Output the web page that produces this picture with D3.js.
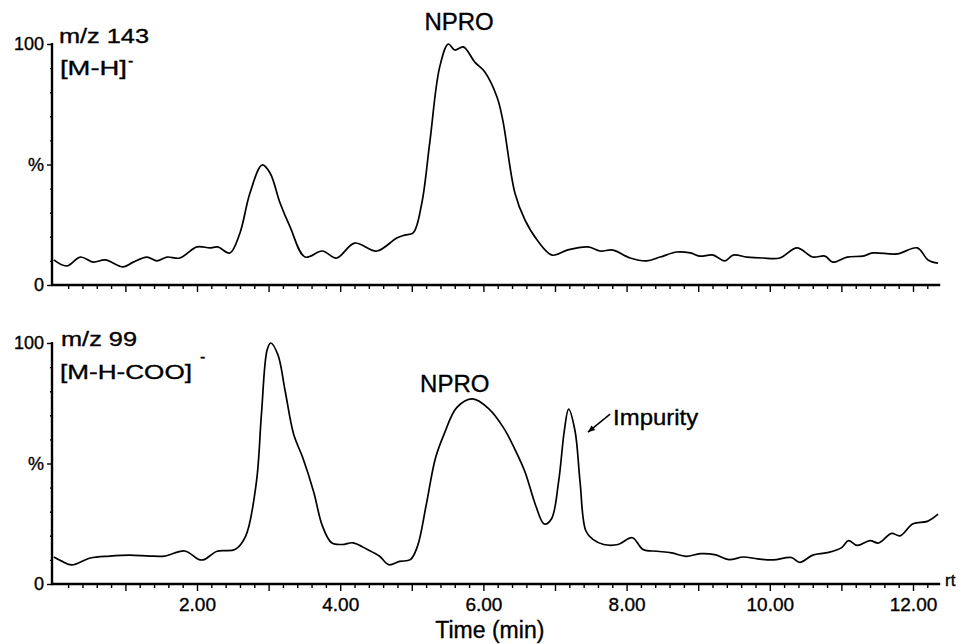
<!DOCTYPE html>
<html>
<head>
<meta charset="utf-8">
<script src="https://cdn.jsdelivr.net/npm/d3@7"></script>
<style>
  html, body { margin: 0; padding: 0; background: #fff; }
  svg { display: block; }
  text { font-family: "Liberation Sans", Arial, sans-serif; fill: #000; stroke: #000; stroke-width: 0.35px; }
</style>
</head>
<body>
<svg id="chart" width="963" height="644"></svg>
<script>
// Retention time (min) and relative intensity (%) of the two ion traces
const topTime = [0.00,0.18,0.37,0.55,0.72,0.97,1.11,1.30,1.44,1.58,1.76,2.00,2.18,2.29,2.46,2.60,2.74,2.91,3.02,3.16,3.30,3.51,3.75,3.95,4.20,4.51,4.79,4.90,5.02,5.14,5.25,5.39,5.51,5.60,5.72,5.88,6.02,6.19,6.27,6.44,6.58,6.75,6.96,7.17,7.46,7.63,7.81,8.05,8.28,8.47,8.70,8.89,9.02,9.21,9.37,9.49,9.68,9.90,10.14,10.38,10.60,10.77,10.88,11.08,11.30,11.44,11.78,12.06,12.21,12.35];
const topIntensity = [10.4,7.9,11.6,9.5,10.4,7.5,9.5,11.6,10.0,11.6,11.2,15.8,15.4,15.8,13.3,21.6,38.2,49.8,46.5,34.0,24.1,11.6,14.1,11.2,17.4,14.1,19.5,20.7,21.6,34.0,58.9,90.5,100,97.5,98.8,92.5,88.4,78.0,68.5,38.2,27.0,18.7,12.4,14.5,15.8,14.1,14.5,11.2,10.0,11.6,13.7,13.3,12.0,12.4,10.0,12.4,11.6,11.2,11.2,15.4,11.6,12.0,9.5,11.6,12.0,13.3,12.9,15.4,10.4,9.1];

const bottomTime = [0.00,0.11,0.25,0.51,0.78,1.06,1.34,1.55,1.83,2.03,2.10,2.28,2.53,2.68,2.83,2.90,2.98,3.03,3.13,3.23,3.35,3.48,3.63,3.75,3.88,4.03,4.18,4.38,4.55,4.68,4.83,4.98,5.08,5.20,5.33,5.45,5.63,5.85,6.08,6.28,6.43,6.58,6.73,6.85,6.95,7.05,7.13,7.19,7.28,7.35,7.43,7.53,7.68,7.88,8.08,8.23,8.43,8.63,8.83,9.03,9.23,9.43,9.63,9.83,10.05,10.30,10.42,10.60,10.80,11.00,11.10,11.22,11.40,11.52,11.70,11.82,12.00,12.20,12.35];
const bottomIntensity = [11.2,9.5,7.9,10.8,11.6,12.0,11.6,11.6,13.7,10.1,10.1,13.6,14.3,19.9,42.4,70.5,97.2,100,95.1,80.3,62.1,52.2,38.2,24.2,17.1,16.4,17.1,14.3,11.5,8.0,9.4,10.1,15.7,32.6,52.2,62.1,73.3,76.8,72.6,64.9,56.5,46.6,32.6,24.9,27.0,42.4,63.5,72.6,63.5,42.4,22.1,18.5,16.4,16.4,19.2,14.3,13.6,12.9,11.5,12.6,12.2,10.1,11.2,10.4,10.0,11.0,9.0,12.0,13.0,15.0,18.0,16.0,18.0,17.0,21.0,20.0,25.0,26.0,29.0];

// Axis ticks and labels
const majorTicks = [1,2,3,4,5,6,7,8,9,10,11,12];
const minorTicks = d3.range(0.2, 12.39, 0.2).map(v => +v.toFixed(1)).filter(v => Math.abs(v - Math.round(v)) > 1e-6);
const labelTicks = [2,4,6,8,10,12];
const yTicks = [0, 50, 100];
const yTickLabels = ["0", "%", "100"];
const yMinorTicks = [10,20,30,40,60,70,80,90];

const panelTitles = [["m/z 143", "[M-H]"], ["m/z 99", "[M-H-COO]"]];
const peakLabel = "NPRO";
const impurityLabel = "Impurity";
const xTitle = "Time (min)";

const svg = d3.select("#chart");

const x = d3.scaleLinear().domain([0, 12.38]).range([53.8, 940.2]);
const yTop = d3.scaleLinear().domain([0, 100]).range([285, 44]);
const yBot = d3.scaleLinear().domain([0, 100]).range([584, 343]);

function drawPanel(y, times, values, showLabels) {
  const g = svg.append("g");

  // x axis: minor and major ticks pointing down
  const xMinor = d3.axisBottom(x).tickValues(minorTicks).tickSize(4).tickFormat("");
  const xMajor = d3.axisBottom(x).tickValues(majorTicks).tickSize(7).tickFormat("");
  g.append("g").attr("transform", `translate(0,${y(0)})`).call(xMinor);
  g.append("g").attr("transform", `translate(0,${y(0)})`).call(xMajor);
  if (showLabels) {
    const xLab = d3.axisBottom(x).tickValues(labelTicks).tickSize(0).tickPadding(14)
      .tickFormat(d3.format(".2f"));
    g.append("g").attr("class", "xlab").attr("transform", `translate(0,${y(0)})`).call(xLab);
  }

  // y axis
  const yMinor = d3.axisLeft(y).tickValues(yMinorTicks).tickSize(2).tickFormat("");
  const yMajor = d3.axisLeft(y).tickValues(yTicks).tickSize(5).tickPadding(3)
    .tickFormat((d, i) => yTickLabels[i]);
  g.append("g").attr("transform", `translate(52,0)`).call(yMinor);
  g.append("g").attr("class", "ylab").attr("transform", `translate(52,0)`).call(yMajor);

  g.selectAll(".domain").remove();
  g.selectAll(".tick line").attr("stroke", "#000").attr("stroke-width", 1.4);
  g.selectAll(".ylab text").attr("font-size", 18).attr("font-family", "Liberation Sans, Arial, sans-serif");
  g.selectAll(".xlab text").attr("font-size", 19).attr("font-family", "Liberation Sans, Arial, sans-serif");

  // axis lines
  g.append("line").attr("x1", 52).attr("x2", 52).attr("y1", y(100) - 1).attr("y2", y(0) + 1)
    .attr("stroke", "#000").attr("stroke-width", 2.4);
  g.append("line").attr("x1", 51).attr("x2", x(12.38)).attr("y1", y(0)).attr("y2", y(0))
    .attr("stroke", "#000").attr("stroke-width", 2.6);

  // trace
  const line = d3.line()
    .x((d, i) => x(times[i]))
    .y(d => y(d))
    .curve(d3.curveCatmullRom.alpha(0.5));
  g.append("path").datum(values).attr("d", line)
    .attr("fill", "none").attr("stroke", "#000").attr("stroke-width", 1.7)
    .attr("stroke-linejoin", "round");
  return g;
}

drawPanel(yTop, topTime, topIntensity, false);
drawPanel(yBot, bottomTime, bottomIntensity, true);

// panel titles
svg.append("text").attr("x", 59).attr("y", 43).attr("font-size", 21)
  .attr("textLength", 90).attr("lengthAdjust", "spacingAndGlyphs").text(panelTitles[0][0]);
svg.append("text").attr("x", 60).attr("y", 75).attr("font-size", 21)
  .attr("textLength", 67).attr("lengthAdjust", "spacingAndGlyphs").text(panelTitles[0][1]);
svg.append("text").attr("x", 128).attr("y", 66).attr("font-size", 16).text("-");

svg.append("text").attr("x", 61).attr("y", 346).attr("font-size", 21)
  .attr("textLength", 76).attr("lengthAdjust", "spacingAndGlyphs").text(panelTitles[1][0]);
svg.append("text").attr("x", 60).attr("y", 379).attr("font-size", 21)
  .attr("textLength", 132).attr("lengthAdjust", "spacingAndGlyphs").text(panelTitles[1][1]);
svg.append("text").attr("x", 200).attr("y", 362).attr("font-size", 16).text("-");

// peak labels
svg.append("text").attr("x", x(5.66)).attr("y", 30).attr("font-size", 24)
  .attr("text-anchor", "middle").text(peakLabel);
svg.append("text").attr("x", x(5.6)).attr("y", 392).attr("font-size", 24)
  .attr("text-anchor", "middle").text(peakLabel);

// impurity annotation with arrow
const tip = [x(7.46), yBot(63)];
const tail = [x(7.77), yBot(70.5)];
const ang = Math.atan2(tip[1] - tail[1], tip[0] - tail[0]);
const ah = 7, aw = 3;
svg.append("line").attr("x1", tail[0]).attr("y1", tail[1]).attr("x2", tip[0]).attr("y2", tip[1])
  .attr("stroke", "#000").attr("stroke-width", 1.5);
svg.append("path")
  .attr("d", `M${tip[0]},${tip[1]}` +
    `L${tip[0] - ah * Math.cos(ang) + aw * Math.sin(ang)},${tip[1] - ah * Math.sin(ang) - aw * Math.cos(ang)}` +
    `L${tip[0] - ah * Math.cos(ang) - aw * Math.sin(ang)},${tip[1] - ah * Math.sin(ang) + aw * Math.cos(ang)}Z`)
  .attr("fill", "#000");
svg.append("text").attr("x", tail[0] + 3).attr("y", 425).attr("font-size", 22)
  .attr("textLength", 85).attr("lengthAdjust", "spacingAndGlyphs").text(impurityLabel);

// x axis title and trailing unit mark
svg.append("text").attr("x", x(6.09)).attr("y", 638).attr("font-size", 23)
  .attr("text-anchor", "middle").text(xTitle);
svg.append("text").attr("x", 945).attr("y", 586).attr("font-size", 17).text("rt");
</script>
</body>
</html>
